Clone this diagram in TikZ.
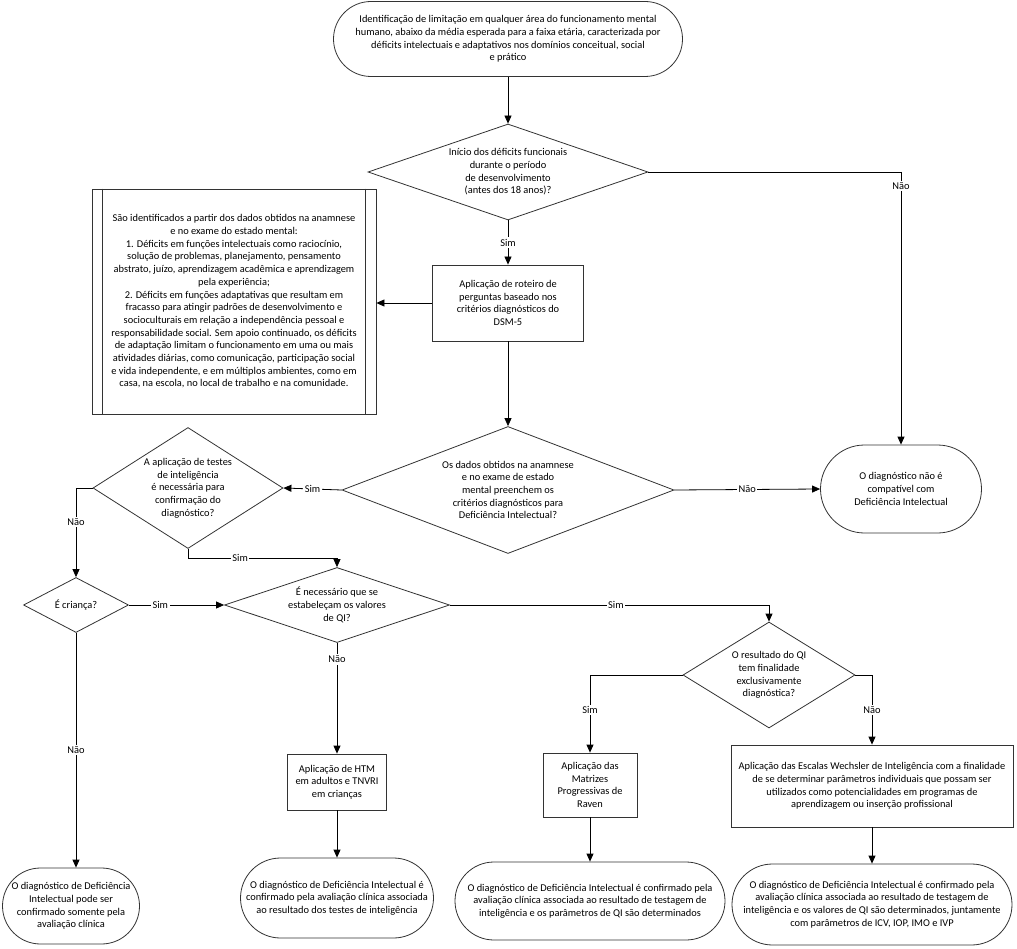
\documentclass[tikz,border=0pt]{standalone}
\usepackage{fontspec}
\setmainfont{Carlito}
\usetikzlibrary{shapes.misc,shapes.geometric,arrows.meta,calc}
\begin{document}
\begin{tikzpicture}[x=1pt,y=-1pt,
  every node/.style={font=\fontsize{10.4}{12.7}\selectfont, align=center, inner sep=0pt},
  shp/.style={draw=black!80, line width=0.8pt, fill=white},
  term/.style={shp, rounded rectangle},
  proc/.style={shp, rectangle},
  dec/.style={shp, diamond},
  arr/.style={-{Triangle[length=8pt,width=7pt]}, line width=0.8pt},
  ln/.style={line width=0.8pt},
  lab/.style={fill=white, inner sep=1.5pt}]
\useasboundingbox (0,0) rectangle (1017,949);

% nodes
\node[term, minimum width=349pt, minimum height=75pt] (t0) at (508,39)
  {Identificação de limitação em qualquer área do funcionamento mental\\humano, abaixo da média esperada para a faixa etária, caracterizada por\\déficits intelectuais e adaptativos nos domínios conceitual, social\\e prático};

\node[dec, minimum width=280pt, minimum height=96pt] (d1) at (508,172) {};
\node (d1t) at (d1) {Início dos déficits funcionais\\durante o período\\de desenvolvimento\\(antes dos 18 anos)?};

\node[proc, minimum width=284pt, minimum height=225pt] (L) at (234,301.5)
  {São identificados a partir dos dados obtidos na anamnese\\e no exame do estado mental:\\1. Déficits em funções intelectuais como raciocínio,\\solução de problemas, planejamento, pensamento\\abstrato, juízo, aprendizagem acadêmica e aprendizagem\\pela experiência;\\2. Déficits em funções adaptativas que resultam em\\fracasso para atingir padrões de desenvolvimento e\\socioculturais em relação a independência pessoal e\\responsabilidade social. Sem apoio continuado, os déficits\\de adaptação limitam o funcionamento em uma ou mais\\atividades diárias, como comunicação, participação social\\e vida independente, e em múltiplos ambientes, como em\\casa, na escola, no local de trabalho e na comunidade.};
\draw[draw=black!80, line width=0.8pt] ([xshift=11pt]L.north west) -- ([xshift=11pt]L.south west);
\draw[draw=black!80, line width=0.8pt] ([xshift=-11pt]L.north east) -- ([xshift=-11pt]L.south east);

\node[proc, minimum width=151pt, minimum height=76pt] (b1) at (508,303)
  {Aplicação de roteiro de\\perguntas baseado nos\\critérios diagnósticos do\\DSM-5};

\node[dec, minimum width=332pt, minimum height=127pt] (d2) at (508,490) {};
\node (d2t) at (d2) {Os dados obtidos na anamnese\\e no exame de estado\\mental preenchem os\\critérios diagnósticos para\\Deficiência Intelectual?};

\node[term, minimum width=161pt, minimum height=88pt] (t1) at (901,489)
  {O diagnóstico não é\\compatível com\\Deficiência Intelectual};

\node[dec, minimum width=190pt, minimum height=121pt] (d3) at (188,488) {};
\node (d3t) at (d3) {A aplicação de testes\\de inteligência\\é necessária para\\confirmação do\\diagnóstico?};

\node[dec, minimum width=105pt, minimum height=55pt] (d4) at (76,605) {};
\node (d4t) at (d4) {É criança?};

\node[dec, minimum width=225pt, minimum height=75pt] (d5) at (337,605) {};
\node (d5t) at (d5) {É necessário que se\\estabeleçam os valores\\de QI?};

\node[dec, minimum width=172pt, minimum height=106pt] (d6) at (769,675) {};
\node (d6t) at (d6) {O resultado do QI\\tem finalidade\\exclusivamente\\diagnóstica?};

\node[proc, minimum width=99pt, minimum height=56pt] (b2) at (337,782)
  {Aplicação de HTM\\em adultos e TNVRI\\em crianças};

\node[proc, minimum width=94pt, minimum height=64pt] (b3) at (590,785)
  {Aplicação das\\Matrizes\\Progressivas de\\Raven};

\node[proc, minimum width=282pt, minimum height=82pt] (b4) at (872,786)
  {Aplicação das Escalas Wechsler de Inteligência com a finalidade\\de se determinar parâmetros individuais que possam ser\\utilizados como potencialidades em programas de\\aprendizagem ou inserção profissional};

\node[term, minimum width=137pt, minimum height=76pt] (t2) at (71,906)
  {O diagnóstico de Deficiência\\Intelectual pode ser\\confirmado somente pela\\avaliação clínica};

\node[term, minimum width=193pt, minimum height=80pt] (t3) at (337,898)
  {O diagnóstico de Deficiência Intelectual é\\confirmado pela avaliação clínica associada\\ao resultado dos testes de inteligência};

\node[term, minimum width=270pt, minimum height=78pt] (t4) at (590,901)
  {O diagnóstico de Deficiência Intelectual é confirmado pela\\avaliação clínica associada ao resultado de testagem de\\inteligência e os parâmetros de QI são determinados};

\node[term, minimum width=280pt, minimum height=81pt] (t5) at (872,904.5)
  {O diagnóstico de Deficiência Intelectual é confirmado pela\\avaliação clínica associada ao resultado de testagem de\\inteligência e os valores de QI são determinados, juntamente\\com parâmetros de ICV, IOP, IMO e IVP};

% connectors
\draw[arr] (t0.south) -- (d1.north);

\coordinate (c1) at (t1.north |- d1.east);
\draw[ln] (d1.east) -- (c1);
\draw[arr] (c1) -- node[lab, pos=0.05] (n1) {Não} (t1.north);

\draw[arr] (d1.south) -- node[lab] (s1) {Sim} (b1.north);
\draw[arr] (b1.west) -- (L.east |- b1.west);
\draw[arr] (b1.south) -- (d2.north);

\draw[arr] (d2.west) -- node[lab] (s2) {Sim} (d3.east);
\draw[arr] (d2.east) -- node[lab] (n2) {Não} (t1.west);

\coordinate (c2) at (d4.north |- d3.west);
\draw[ln] (d3.west) -- (c2);
\draw[arr] (c2) -- node[lab, pos=0.38] (n3) {Não} (d4.north);

\coordinate (c3) at ([yshift=-9pt]d3.south);
\coordinate (c4) at (d5.north |- c3);
\draw[ln] (d3.south) -- (c3);
\draw[arr] (c3) -- node[lab, pos=0.35] (s3) {Sim} (c4) -- (d5.north);

\draw[arr] (d4.east) -- node[lab, pos=0.33] (s4) {Sim} (d5.west);
\draw[arr] (d4.south) -- node[lab] (n4) {Não} (d4.south |- t2.north);

\coordinate (c5) at (d6.north |- d5.east);
\draw[ln] (d5.east) -- node[lab, pos=0.52] (s5) {Sim} (c5);
\draw[arr] (c5) -- (d6.north);

\draw[arr] (d5.south) -- node[lab, pos=0.15] (n5) {Não} (b2.north);

\coordinate (c6) at (b3.north |- d6.west);
\draw[ln] (d6.west) -- (c6);
\draw[arr] (c6) -- node[lab, pos=0.45] (s6) {Sim} (b3.north);

\coordinate (c7) at (b4.north |- d6.east);
\draw[ln] (d6.east) -- (c7);
\draw[arr] (c7) -- node[lab, pos=0.5] (n6) {Não} (b4.north);

\draw[arr] (b2.south) -- (t3.north);
\draw[arr] (b3.south) -- (t4.north);
\draw[arr] (b4.south) -- (t5.north);
\end{tikzpicture}
\end{document}
